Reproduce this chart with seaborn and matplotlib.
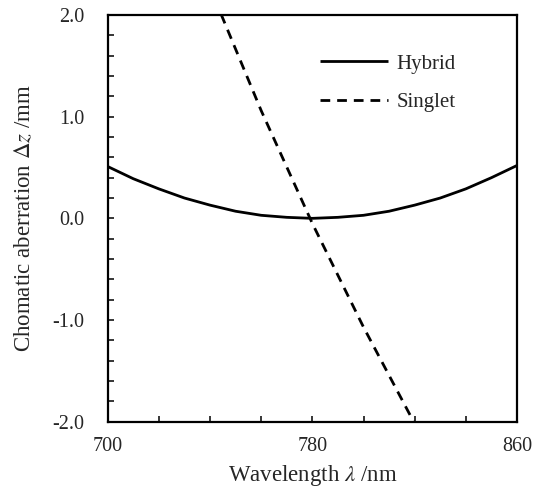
import numpy as np
import pandas as pd
import matplotlib
matplotlib.use("Agg")
import matplotlib.pyplot as plt
from matplotlib.ticker import FixedLocator, MultipleLocator, FormatStrFormatter
import seaborn as sns

# Hybrid lens: chromatic focal shift (mm) vs wavelength (nm)
hybrid_wl = [700, 710, 720, 730, 740, 750, 760, 770, 780,
             790, 800, 810, 820, 830, 840, 850, 860]
hybrid_dz = [0.51, 0.39, 0.29, 0.20, 0.13, 0.07, 0.03, 0.01, 0.0,
             0.01, 0.03, 0.07, 0.13, 0.20, 0.29, 0.40, 0.52]

# Singlet lens
singlet_wl = [740, 760, 780, 800, 820]
singlet_dz = [2.27, 1.06, -0.05, -1.07, -2.02]

df = pd.concat([
    pd.DataFrame({"wl": hybrid_wl, "dz": hybrid_dz, "lens": "Hybrid"}),
    pd.DataFrame({"wl": singlet_wl, "dz": singlet_dz, "lens": "Singlet"}),
])

sns.set_style("ticks")
plt.rcParams["font.family"] = ["Liberation Serif", "DejaVu Serif"]
plt.rcParams["mathtext.fontset"] = "stix"
plt.rcParams["axes.linewidth"] = 1.6

fig = plt.figure(figsize=(5.33, 4.94), dpi=100)
ax = fig.add_axes([0.202, 0.1464, 0.768, 0.8232])

sns.lineplot(data=df, x="wl", y="dz", hue="lens", style="lens",
             palette=["black", "black"], dashes=[(1, 0), (3.5, 2.5)],
             linewidth=2.0, ax=ax, sort=False)

ax.set_xlim(700, 860)
ax.set_ylim(-2.0, 2.0)
ax.xaxis.set_major_locator(FixedLocator([700, 780, 860]))
ax.xaxis.set_minor_locator(MultipleLocator(20))
ax.yaxis.set_major_locator(MultipleLocator(1.0))
ax.yaxis.set_minor_locator(MultipleLocator(0.2))
ax.yaxis.set_major_formatter(FormatStrFormatter("%.1f"))
ax.tick_params(which="both", direction="in", length=4.5, width=1.3,
               labelsize=14.5, top=False, right=False)
ax.tick_params(axis="x", which="major", pad=11)
ax.tick_params(axis="y", which="major", pad=17)
for s in ax.spines.values():
    s.set_visible(True)
    s.set_color("black")

ax.set_xlabel(r"Wavelength $\lambda$ /nm", fontsize=16.5, labelpad=5)
ax.set_ylabel(r"Chomatic aberration $\Delta z$ /mm", fontsize=16.5, labelpad=12)

ax.legend(title=None, frameon=False, loc="upper left",
          bbox_to_anchor=(0.519, 0.904), fontsize=15,
          borderpad=0, borderaxespad=0,
          handlelength=3.27, handletextpad=0.38, labelspacing=0.91)

fig.savefig("out.png", dpi=100)
